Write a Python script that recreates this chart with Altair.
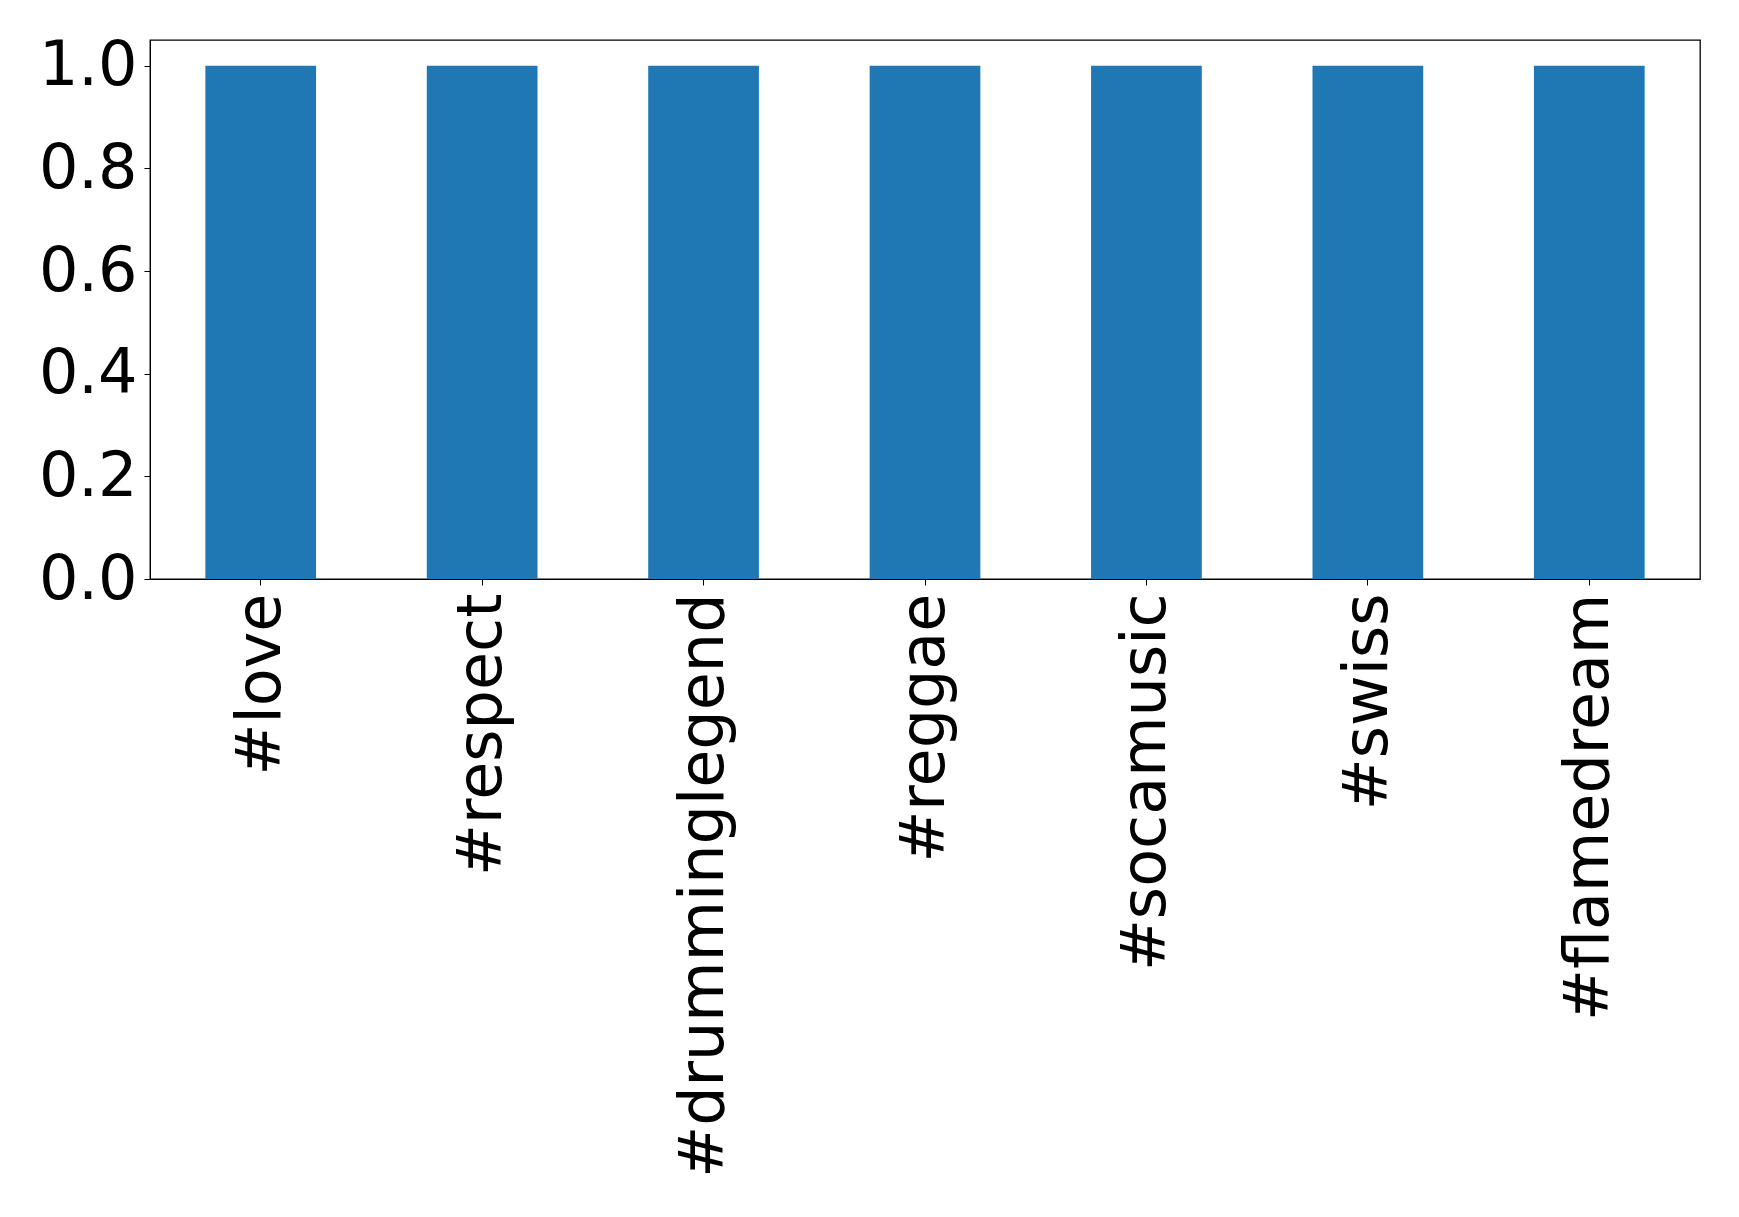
import altair as alt
import pandas as pd

categories = ["#love", "#respect", "#drumminglegend", "#reggae", "#socamusic", "#swiss", "#flamedream"]
values = [1, 1, 1, 1, 1, 1, 1]
y_ticks = [0.0, 0.2, 0.4, 0.6, 0.8, 1.0]

df = pd.DataFrame({"tag": categories, "count": values})

chart = alt.Chart(df).mark_bar(color="#1f77b4").encode(
    x=alt.X("tag:N", sort=categories, title=None,
            scale=alt.Scale(paddingInner=0.5, paddingOuter=0.25),
            axis=alt.Axis(labelAngle=-90, labelFontSize=62, labelFont="DejaVu Sans",
                          labelColor="black", tickColor="black", tickSize=6,
                          labelPadding=8, domainColor="black", labelLimit=0,
                          grid=False)),
    y=alt.Y("count:Q", title=None,
            scale=alt.Scale(domain=[0, 1.05], nice=False, zero=True),
            axis=alt.Axis(values=y_ticks, format=".1f", labelFontSize=62,
                          labelFont="DejaVu Sans", labelColor="black",
                          tickColor="black", tickSize=6, labelPadding=7,
                          domainColor="black", grid=False)),
).properties(
    width=1550, height=539,
    autosize=alt.AutoSizeParams(type="none"),
    padding={"left": 142, "top": 32, "right": 30, "bottom": 620},
    background="white",
).configure_view(
    stroke="black", strokeWidth=1.3
)

chart.save("out.html", embed_options={"renderer": "svg", "actions": False})
